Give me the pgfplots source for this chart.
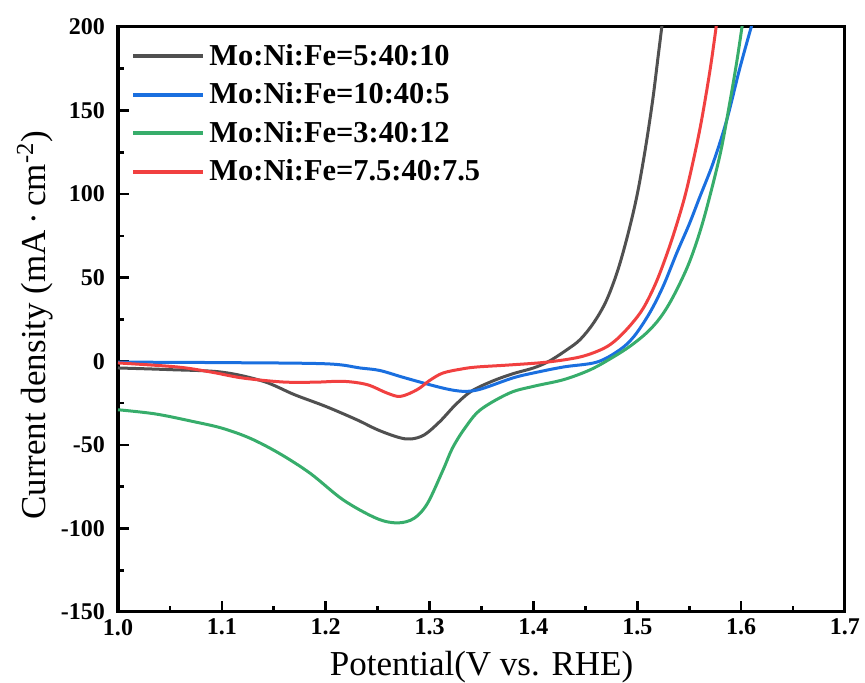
\documentclass[border=0pt]{standalone}
\usepackage{fontspec}
\setmainfont{Liberation Serif}
\usepackage{pgfplots}
\pgfplotsset{compat=1.18}
\definecolor{cblack}{HTML}{505050}
\definecolor{cblue}{HTML}{1A6FDF}
\definecolor{cgreen}{HTML}{37AD6B}
\definecolor{cred}{HTML}{F14040}
\begin{document}
\begin{tikzpicture}
\begin{axis}[
  name=ax,
  scale only axis,
  width=363.5pt, height=292.5pt,
  xmin=1.0, xmax=1.7, ymin=-150, ymax=200,
  xtick={1.0,1.1,...,1.7},
  ytick={-150,-100,...,200},
  minor x tick num=1, minor y tick num=1,
  tick align=inside,
  xtick pos=left, ytick pos=left,
  major tick length=5.5pt, minor tick length=2.8pt,
  every tick/.style={line width=1.3pt, black},
  axis line style={line width=1.5pt},
  /pgf/number format/assume math mode=true,
  ticklabel style={font=\fontsize{12}{13}\selectfont\bfseries},
  xticklabel style={/pgf/number format/fixed, /pgf/number format/fixed zerofill, /pgf/number format/precision=1, yshift=0pt},
  yticklabel style={/pgf/number format/fixed, /pgf/number format/precision=0, xshift=-3pt},
  xlabel={Potential(V vs. RHE)},
  ylabel={Current density (mA\,·\,cm\textsuperscript{-2})},
  label style={font=\fontsize{17.5}{20}\selectfont},
  xlabel style={at={(axis description cs:0.5,0)}, anchor=base, yshift=-31.5pt},
  ylabel style={at={(axis description cs:-0.114,0.49)}, anchor=center},
  legend style={draw=none, fill=none, at={(0.018,0.978)}, anchor=north west,
    font=\fontsize{15.2}{17}\selectfont\bfseries, row sep=3.2pt,
    inner sep=0pt},
  legend cell align=left,
  legend image code/.code={\draw[#1, line width=2pt] (0pt,0pt) -- (35pt,0pt);},
  every axis plot/.append style={line width=1.5pt, smooth, tension=0.55},
  clip=true,
]
\addplot[cblack] coordinates {
(1.000,-4) (1.05,-5) (1.10,-6.5) (1.14,-12) (1.17,-20) (1.20,-27) (1.23,-35)
(1.25,-41) (1.27,-45.5) (1.282,-46.5) (1.295,-44) (1.31,-36) (1.325,-26)
(1.34,-18) (1.36,-12) (1.38,-7.5) (1.40,-4) (1.415,0) (1.432,6.8) (1.445,13)
(1.458,23) (1.470,36) (1.481,54) (1.491,76) (1.500,100) (1.508,128)
(1.515,157) (1.520,182) (1.525,207)
};
\addlegendentry{Mo:Ni:Fe=5:40:10}
\addplot[cblue] coordinates {
(1.0,-0.5) (1.1,-0.8) (1.2,-1.5) (1.233,-4) (1.252,-5.5) (1.274,-9.5)
(1.30,-14) (1.32,-17) (1.335,-18) (1.35,-16.5) (1.38,-10) (1.40,-7)
(1.429,-3.4) (1.461,-0.5) (1.483,6.8) (1.497,15) (1.512,29) (1.525,45)
(1.538,64.8) (1.550,82) (1.560,98) (1.573,118.6) (1.586,144) (1.599,176) (1.612,205)
};
\addlegendentry{Mo:Ni:Fe=10:40:5}
\addplot[cgreen] coordinates {
(1.0,-29) (1.036,-31.5) (1.072,-36) (1.10,-40) (1.127,-46) (1.155,-55)
(1.185,-67) (1.217,-83) (1.249,-94) (1.269,-96.7) (1.285,-94) (1.298,-85)
(1.313,-65) (1.322,-52) (1.334,-40) (1.349,-29) (1.377,-19) (1.40,-15)
(1.429,-11) (1.455,-5) (1.477,2.6) (1.493,9) (1.509,17) (1.522,26)
(1.534,38) (1.548,56) (1.558,73) (1.567,92) (1.580,124.5) (1.589,154.5)
(1.596,180) (1.602,205)
};
\addlegendentry{Mo:Ni:Fe=3:40:12}
\addplot[cred] coordinates {
(1.0,-1) (1.057,-3.4) (1.09,-6.5) (1.120,-10) (1.159,-12.4) (1.19,-12.5)
(1.217,-12) (1.240,-14) (1.259,-19) (1.272,-21) (1.288,-17) (1.30,-11.5)
(1.313,-7) (1.332,-4.5) (1.346,-3.4) (1.377,-2.2) (1.413,-0.5) (1.445,2.6)
(1.467,7.5) (1.480,13) (1.494,22) (1.506,32) (1.518,47) (1.529,65) (1.539,84)
(1.548,104) (1.560,138) (1.570,174) (1.577,205)
};
\addlegendentry{Mo:Ni:Fe=7.5:40:7.5}
\end{axis}
\pgfresetboundingbox
\path (-59pt,-35.5pt) rectangle (373.5pt,306pt);
\end{tikzpicture}
\end{document}
